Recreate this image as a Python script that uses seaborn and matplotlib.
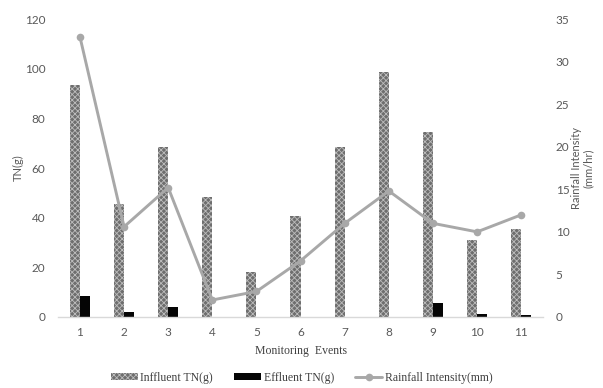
import numpy as np
import pandas as pd
import matplotlib
matplotlib.use("Agg")
import matplotlib.pyplot as plt
import seaborn as sns
from matplotlib.lines import Line2D
from matplotlib.patches import Patch

# Monitoring events and measured values
events = ["1", "2", "3", "4", "5", "6", "7", "8", "9", "10", "11"]
influent_tn = [93.5, 45.4, 68.4, 48.2, 18.3, 40.8, 68.3, 98.7, 74.5, 30.9, 35.4]
effluent_tn = [8.6, 2.1, 4.2, 0.0, 0.0, 0.0, 0.0, 0.0, 5.5, 1.3, 0.9]
rainfall = [32.9, 10.6, 15.2, 2.0, 3.0, 6.6, 11.0, 14.8, 11.0, 10.0, 12.0]

series_names = ["Inffluent TN(g)", "Effluent TN(g)"]
line_name = "Rainfall Intensity(mm)"

sns.set_theme(style="white")
plt.rcParams["font.family"] = ["Lato", "DejaVu Sans"]
plt.rcParams["hatch.linewidth"] = 0.6

df = pd.DataFrame({
    "event": events * 2,
    "tn": influent_tn + effluent_tn,
    "series": [series_names[0]] * len(events) + [series_names[1]] * len(events),
})

fig = plt.figure(figsize=(6.03, 3.88), dpi=100)
ax = fig.add_axes([0.096, 0.183, 0.805, 0.768])

sns.barplot(data=df, x="event", y="tn", hue="series", order=events,
            hue_order=series_names, palette=["#7a7a7a", "#000000"],
            width=0.46, dodge=True, ax=ax, legend=False, errorbar=None,
            saturation=1)

inf_face, inf_hatch = "#6e6e6e", "#bdbdbd"
eff_face = "#050505"
for bar in ax.containers[0]:
    bar.set_facecolor(inf_face)
    bar.set_edgecolor(inf_hatch)
    bar.set_hatch("xxxxxx")
    bar.set_linewidth(0)
for bar in ax.containers[1]:
    bar.set_facecolor(eff_face)
    bar.set_linewidth(0)

ax.set_ylim(0, 120)
ax.set_yticks(np.arange(0, 121, 20))
ax.set_xlim(-0.5, len(events) - 0.5)

ax2 = ax.twinx()
line_color = "#a8a8a8"
sns.lineplot(x=np.arange(len(events)), y=rainfall, ax=ax2, color=line_color,
             linewidth=2.1, marker="o", markersize=5.5, markeredgewidth=0)
ax2.set_ylim(0, 35)
ax2.set_yticks(np.arange(0, 36, 5))
ax2.set_xlim(-0.5, len(events) - 0.5)

tick_color = "#595959"
for a in (ax, ax2):
    for s in a.spines.values():
        s.set_visible(False)
    a.tick_params(axis="both", length=0, labelsize=8.5, labelcolor=tick_color)
    a.grid(False)
ax.spines["bottom"].set_visible(True)
ax.spines["bottom"].set_color("#d9d9d9")
ax.spines["bottom"].set_linewidth(1.0)
ax.tick_params(axis="y", pad=9)
ax.tick_params(axis="x", pad=7)
ax2.tick_params(axis="y", pad=9)

ax.set_xlabel("Monitoring  Events", family=["Liberation Serif"], fontsize=8.5,
              color="#404040", labelpad=5)
ax.set_ylabel("TN(g)", fontsize=8, color=tick_color, labelpad=1)
ax2.set_ylabel("Rainfall Intensity\n(mm/hr)", fontsize=8, color=tick_color,
               labelpad=1, linespacing=1.1)

handles = [
    Patch(facecolor=inf_face, edgecolor=inf_hatch, hatch="xxxxxx", linewidth=0),
    Patch(facecolor=eff_face, linewidth=0),
    Line2D([0], [0], color=line_color, linewidth=2.1, marker="o",
           markersize=5.5, markeredgewidth=0),
]
fig.legend(handles, series_names + [line_name], loc="center",
           bbox_to_anchor=(0.5, 0.027), ncol=3, frameon=False,
           prop={"family": "Liberation Serif", "size": 8.5},
           labelcolor="#404040", handlelength=2.3, handleheight=0.6,
           handletextpad=0.2, columnspacing=1.8)

fig.savefig("out.png", dpi=100)
